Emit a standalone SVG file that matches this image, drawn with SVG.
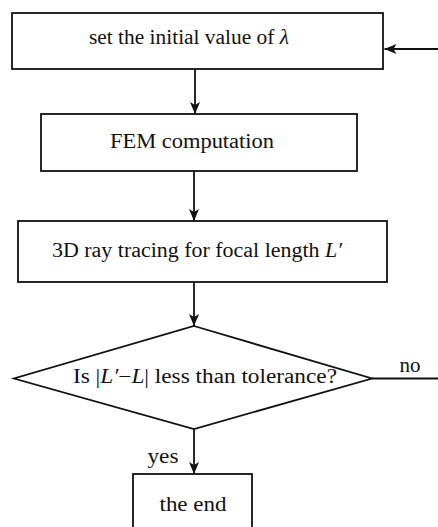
<svg xmlns="http://www.w3.org/2000/svg" width="438" height="527" viewBox="0 0 438 527">
  <defs>
    <style>
      .box { fill: #fff; stroke: #111; stroke-width: 1.8; }
      .edge { fill: none; stroke: #111; stroke-width: 1.8; }
      .lbl { font-family: "Liberation Serif", "DejaVu Serif", serif; font-size: 20px; fill: #111; text-anchor: middle; }
      .it { font-style: italic; }
    </style>
    <marker id="arrow" viewBox="0 0 12 10" refX="12" refY="5" markerWidth="12" markerHeight="10" markerUnits="userSpaceOnUse" orient="auto">
      <path d="M0,0 L12,5 L0,10 L3,5 Z" fill="#111"/>
    </marker>
  </defs>
  <rect width="438" height="527" fill="#fff"/>

  <g id="connectors">
    <line class="edge" x1="195" y1="69" x2="195" y2="114" marker-end="url(#arrow)"/>
    <line class="edge" x1="194" y1="171" x2="194" y2="221" marker-end="url(#arrow)"/>
    <line class="edge" x1="194" y1="282" x2="194" y2="326" marker-end="url(#arrow)"/>
    <line class="edge" x1="194" y1="429" x2="194" y2="474" marker-end="url(#arrow)"/>
    <line class="edge" x1="372" y1="378.5" x2="438" y2="378.5"/>
    <line class="edge" x1="438" y1="49" x2="384.5" y2="49" marker-end="url(#arrow)"/>
    <text class="lbl" x="410" y="372" textLength="21" lengthAdjust="spacingAndGlyphs">no</text>
    <text class="lbl" x="163" y="463" textLength="31" lengthAdjust="spacingAndGlyphs">yes</text>
  </g>

  <g id="init">
    <rect class="box" x="12" y="13" width="371" height="56"/>
    <text class="lbl" x="189" y="43.5" textLength="200" lengthAdjust="spacingAndGlyphs">set the initial value of <tspan class="it">λ</tspan></text>
  </g>

  <g id="fem">
    <rect class="box" x="41" y="114" width="316" height="57"/>
    <text class="lbl" x="192" y="148" textLength="164" lengthAdjust="spacingAndGlyphs">FEM computation</text>
  </g>

  <g id="raytrace">
    <rect class="box" x="18" y="221" width="369" height="61"/>
    <text class="lbl" x="197" y="257" textLength="290" lengthAdjust="spacingAndGlyphs">3D ray tracing for focal length <tspan class="it">L′</tspan></text>
  </g>

  <g id="check">
    <polygon class="box" points="194,326 372,378.5 194,429 14,378.5"/>
    <text class="lbl" x="205" y="383" textLength="264" lengthAdjust="spacingAndGlyphs">Is |<tspan class="it">L′</tspan>−<tspan class="it">L</tspan>| less than tolerance?</text>
  </g>

  <g id="end">
    <rect class="box" x="133" y="474" width="119" height="60"/>
    <text class="lbl" x="193" y="511" textLength="67" lengthAdjust="spacingAndGlyphs">the end</text>
  </g>
</svg>
